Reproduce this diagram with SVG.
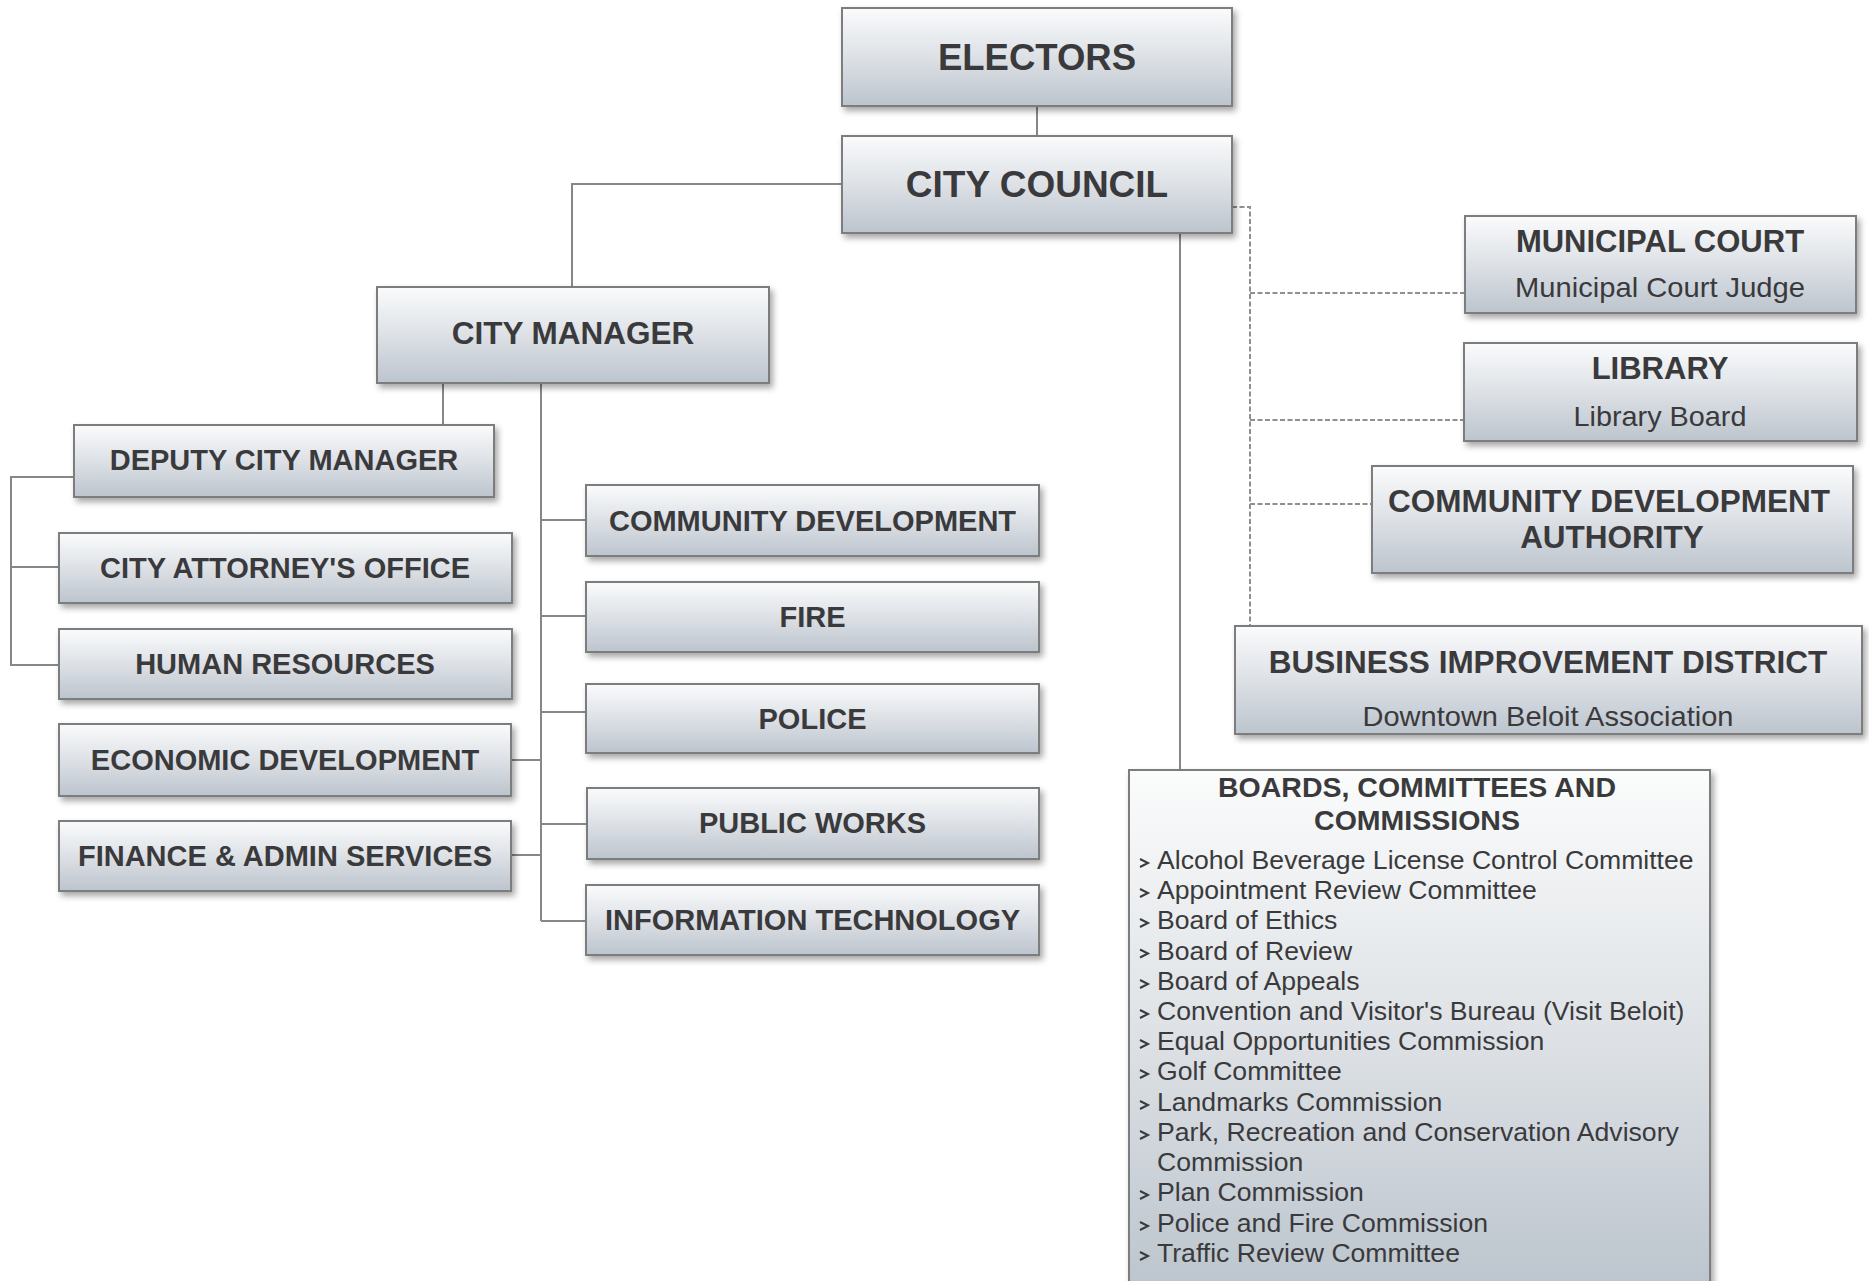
<svg xmlns="http://www.w3.org/2000/svg" width="1869" height="1281" viewBox="0 0 1869 1281">
<defs>
<linearGradient id="g" x1="0" y1="0" x2="0" y2="1">
<stop offset="0" stop-color="#fafbfc"/>
<stop offset="0.5" stop-color="#dde1e6"/>
<stop offset="1" stop-color="#bcc4cd"/>
</linearGradient>
<linearGradient id="g2" x1="0" y1="0" x2="0" y2="1">
<stop offset="0" stop-color="#fbfcfc"/>
<stop offset="0.5" stop-color="#dde1e5"/>
<stop offset="1" stop-color="#b9c2cb"/>
</linearGradient>
<filter id="sh" x="-5%" y="-10%" width="115%" height="130%">
<feDropShadow dx="3" dy="4" stdDeviation="3" flood-color="#000" flood-opacity="0.35"/>
</filter>
<polyline id="chev" points="-4,-10 4,-6 -4,-2" fill="none" stroke="#3a3a3c" stroke-width="2"/>
</defs>
<style>
.box{fill:url(#g);stroke:#7d7d7d;stroke-width:2;filter:url(#sh)}
.tall{fill:url(#g2)}
text{font-family:"Liberation Sans",Arial,Helvetica,sans-serif;fill:#3a3a3c}
.t{font-weight:bold;text-anchor:middle}
.s{text-anchor:middle}
.li{font-size:26.6px}
.c{stroke:#878787;stroke-width:2;fill:none}
.d{stroke:#8f8f8f;stroke-width:2;fill:none;stroke-dasharray:5 2.5}
</style>
<rect width="1869" height="1281" fill="#ffffff"/>

<g id="connectors">
<line class="c" x1="1037" y1="106" x2="1037" y2="136"/>
<polyline class="c" points="842,184 572,184 572,287"/>
<line class="c" x1="443" y1="383" x2="443" y2="425"/>
<polyline class="c" points="74,477 11,477 11,665 59,665"/>
<line class="c" x1="11" y1="567" x2="59" y2="567"/>
<line class="c" x1="541" y1="383" x2="541" y2="921"/>
<line class="c" x1="541" y1="520" x2="586" y2="520"/>
<line class="c" x1="541" y1="616" x2="586" y2="616"/>
<line class="c" x1="541" y1="712" x2="586" y2="712"/>
<line class="c" x1="541" y1="824" x2="587" y2="824"/>
<line class="c" x1="541" y1="921" x2="586" y2="921"/>
<line class="c" x1="511" y1="760" x2="541" y2="760"/>
<line class="c" x1="511" y1="855" x2="541" y2="855"/>
<line class="c" x1="1180" y1="233" x2="1180" y2="770"/>
<polyline class="d" points="1232,207 1250,207 1250,626"/>
<line class="d" x1="1250" y1="293" x2="1465" y2="293"/>
<line class="d" x1="1250" y1="420" x2="1464" y2="420"/>
<line class="d" x1="1250" y1="504" x2="1372" y2="504"/>
</g>

<g id="electors">
<rect class="box" x="842" y="8" width="390" height="98"/>
<text class="t" x="1037" y="70" font-size="36.5">ELECTORS</text>
</g>
<g id="city-council">
<rect class="box" x="842" y="136" width="390" height="97"/>
<text class="t" x="1037" y="197" font-size="37">CITY COUNCIL</text>
</g>
<g id="city-manager">
<rect class="box" x="377" y="287" width="392" height="96"/>
<text class="t" x="573" y="344" font-size="31.5">CITY MANAGER</text>
</g>
<g id="deputy-city-manager">
<rect class="box" x="74" y="425" width="420" height="72"/>
<text class="t" x="284" y="470" font-size="29">DEPUTY CITY MANAGER</text>
</g>
<g id="city-attorney">
<rect class="box" x="59" y="533" width="453" height="70"/>
<text class="t" x="285" y="578" font-size="29">CITY ATTORNEY'S OFFICE</text>
</g>
<g id="human-resources">
<rect class="box" x="59" y="629" width="453" height="70"/>
<text class="t" x="285" y="674" font-size="29">HUMAN RESOURCES</text>
</g>
<g id="economic-development">
<rect class="box" x="59" y="724" width="452" height="72"/>
<text class="t" x="285" y="770" font-size="29">ECONOMIC DEVELOPMENT</text>
</g>
<g id="finance-admin">
<rect class="box" x="59" y="821" width="452" height="70"/>
<text class="t" x="285" y="866" font-size="29">FINANCE &amp; ADMIN SERVICES</text>
</g>
<g id="community-development">
<rect class="box" x="586" y="485" width="453" height="71"/>
<text class="t" x="812.5" y="531" font-size="29">COMMUNITY DEVELOPMENT</text>
</g>
<g id="fire">
<rect class="box" x="586" y="582" width="453" height="70"/>
<text class="t" x="812.5" y="627" font-size="29">FIRE</text>
</g>
<g id="police">
<rect class="box" x="586" y="684" width="453" height="69"/>
<text class="t" x="812.5" y="729" font-size="29">POLICE</text>
</g>
<g id="public-works">
<rect class="box" x="587" y="788" width="452" height="71"/>
<text class="t" x="812.5" y="833" font-size="29">PUBLIC WORKS</text>
</g>
<g id="information-technology">
<rect class="box" x="586" y="885" width="453" height="70"/>
<text class="t" x="812.5" y="930" font-size="29">INFORMATION TECHNOLOGY</text>
</g>
<g id="municipal-court">
<rect class="box" x="1465" y="216" width="391" height="97"/>
<text class="t" x="1660" y="252" font-size="31">MUNICIPAL COURT</text>
<text class="s" x="1660" y="297" font-size="28" textLength="290" lengthAdjust="spacingAndGlyphs">Municipal Court Judge</text>
</g>
<g id="library">
<rect class="box" x="1464" y="343" width="393" height="98"/>
<text class="t" x="1660" y="379" font-size="31">LIBRARY</text>
<text class="s" x="1660" y="426" font-size="28" textLength="173" lengthAdjust="spacingAndGlyphs">Library Board</text>
</g>
<g id="community-development-authority">
<rect class="box" x="1372" y="466" width="481" height="107"/>
<text class="t" x="1609" y="512" font-size="31.5">COMMUNITY DEVELOPMENT</text>
<text class="t" x="1612" y="548" font-size="31.5">AUTHORITY</text>
</g>
<g id="business-improvement-district">
<rect class="box" x="1235" y="626" width="627" height="108"/>
<text class="t" x="1548" y="673" font-size="31.5">BUSINESS IMPROVEMENT DISTRICT</text>
<text class="s" x="1548" y="726" font-size="28" textLength="371" lengthAdjust="spacingAndGlyphs">Downtown Beloit Association</text>
</g>
<g id="boards-committees-commissions">
<rect class="box tall" x="1129" y="770" width="581" height="540"/>
<text class="t" x="1417" y="797" font-size="28.5">BOARDS, COMMITTEES AND</text>
<text class="t" x="1417" y="830" font-size="28.5">COMMISSIONS</text>
<use href="#chev" x="1144" y="869"/><text class="li" x="1157" y="869">Alcohol Beverage License Control Committee</text>
<use href="#chev" x="1144" y="899"/><text class="li" x="1157" y="899">Appointment Review Committee</text>
<use href="#chev" x="1144" y="929"/><text class="li" x="1157" y="929">Board of Ethics</text>
<use href="#chev" x="1144" y="959.5"/><text class="li" x="1157" y="959.5">Board of Review</text>
<use href="#chev" x="1144" y="990"/><text class="li" x="1157" y="990">Board of Appeals</text>
<use href="#chev" x="1144" y="1020"/><text class="li" x="1157" y="1020">Convention and Visitor's Bureau (Visit Beloit)</text>
<use href="#chev" x="1144" y="1050"/><text class="li" x="1157" y="1050">Equal Opportunities Commission</text>
<use href="#chev" x="1144" y="1080"/><text class="li" x="1157" y="1080">Golf Committee</text>
<use href="#chev" x="1144" y="1111"/><text class="li" x="1157" y="1111">Landmarks Commission</text>
<use href="#chev" x="1144" y="1141"/><text class="li" x="1157" y="1141">Park, Recreation and Conservation Advisory</text>
<text class="li" x="1157" y="1171">Commission</text>
<use href="#chev" x="1144" y="1201"/><text class="li" x="1157" y="1201">Plan Commission</text>
<use href="#chev" x="1144" y="1232"/><text class="li" x="1157" y="1232">Police and Fire Commission</text>
<use href="#chev" x="1144" y="1262"/><text class="li" x="1157" y="1262">Traffic Review Committee</text>
</g>
</svg>
